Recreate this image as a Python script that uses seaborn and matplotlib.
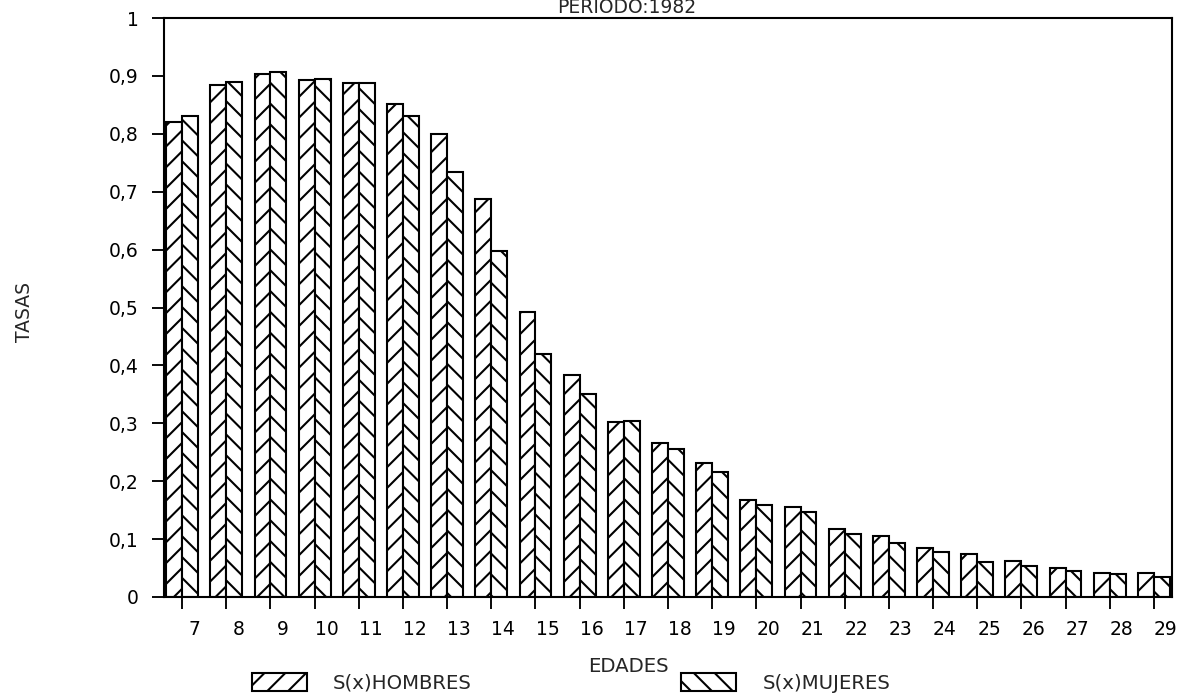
import numpy as np
import pandas as pd
import matplotlib
matplotlib.use('Agg')
import matplotlib.pyplot as plt
import matplotlib.transforms as mtransforms
import seaborn as sns

edades = list(range(7, 30))
hombres = [0.821, 0.884, 0.903, 0.893, 0.888, 0.852, 0.800, 0.687, 0.492, 0.384,
           0.303, 0.266, 0.231, 0.168, 0.156, 0.118, 0.105, 0.084, 0.075, 0.063,
           0.050, 0.042, 0.042]
mujeres = [0.831, 0.889, 0.907, 0.895, 0.888, 0.831, 0.734, 0.597, 0.419, 0.350,
           0.304, 0.255, 0.216, 0.159, 0.147, 0.108, 0.093, 0.078, 0.061, 0.054,
           0.045, 0.040, 0.035]
series = ['S(x)HOMBRES', 'S(x)MUJERES']
yticks = [0, 0.1, 0.2, 0.3, 0.4, 0.5, 0.6, 0.7, 0.8, 0.9, 1]

df = pd.DataFrame({
    'edad': edades * 2,
    'tasa': hombres + mujeres,
    'sexo': [series[0]] * len(edades) + [series[1]] * len(edades),
})

# dpi 125 -> rayado "//" con paso de ~21 px como en el original
DPI = 125
k = 150 / DPI  # factor para mantener tamaños en pixeles

sns.set_style('white')
plt.rcParams['font.family'] = ['DejaVu Sans']
plt.rcParams['hatch.linewidth'] = 1.0 * k
plt.rcParams['hatch.color'] = 'black'

fig = plt.figure(figsize=(1180 / DPI, 695 / DPI), dpi=DPI)
ax = fig.add_axes([164 / 1180, 1 - 597 / 695, (1172 - 164) / 1180, (597 - 18) / 695])

sns.barplot(data=df, x='edad', y='tasa', hue='sexo', hue_order=series,
            palette=['white', 'white'], edgecolor='black', linewidth=1.0 * k,
            width=0.72, gap=0, saturation=1, ax=ax, legend=False)

# rayado: "/" hombres, "\" mujeres
for cont, h in zip(ax.containers, ['//', '\\\\']):
    for bar in cont:
        bar.set_hatch(h)

ax.set_xlim(-0.41, 22.41)
ax.set_ylim(0, 1)
ax.set_yticks(yticks)
ax.set_yticklabels(['0' if v == 0 else '1' if v == 1 else f'{v:.1f}'.replace('.', ',')
                    for v in yticks])
ax.set_xlabel('')
ax.set_ylabel('')
for s in ax.spines.values():
    s.set_color('black')
    s.set_linewidth(1.0 * k)
ax.tick_params(axis='both', direction='out', length=6 * k, width=0.9 * k, color='black',
               labelsize=9 * k, labelcolor='black', bottom=True, left=True)
ax.tick_params(axis='y', pad=6 * k)
ax.tick_params(axis='x', pad=5 * k)

offset = mtransforms.ScaledTranslation(12 / DPI, 0, fig.dpi_scale_trans)
for lab in ax.get_xticklabels():
    lab.set_transform(lab.get_transform() + offset)

fig.text(628 / 1180, 1 - 667 / 695, 'EDADES', ha='center', va='center', fontsize=9.5 * k)
fig.text(25 / 1180, 1 - 312 / 695, 'TASAS', ha='center', va='center', fontsize=9 * k,
         rotation=90)
fig.text(627 / 1180, 1 - 17 / 695, 'PERIODO:1982', ha='center', va='bottom',
         fontsize=9 * k)

handles = [cont[0] for cont in ax.containers]
fig.legend(handles, series, loc='center', bbox_to_anchor=(571 / 1180, 1 - 683 / 695),
           ncol=2, frameon=False, fontsize=9.5 * k, handlelength=2.78, handleheight=1.0,
           handletextpad=1.31, columnspacing=10.6, borderpad=0, borderaxespad=0)

fig.savefig('out.png', dpi=DPI)
